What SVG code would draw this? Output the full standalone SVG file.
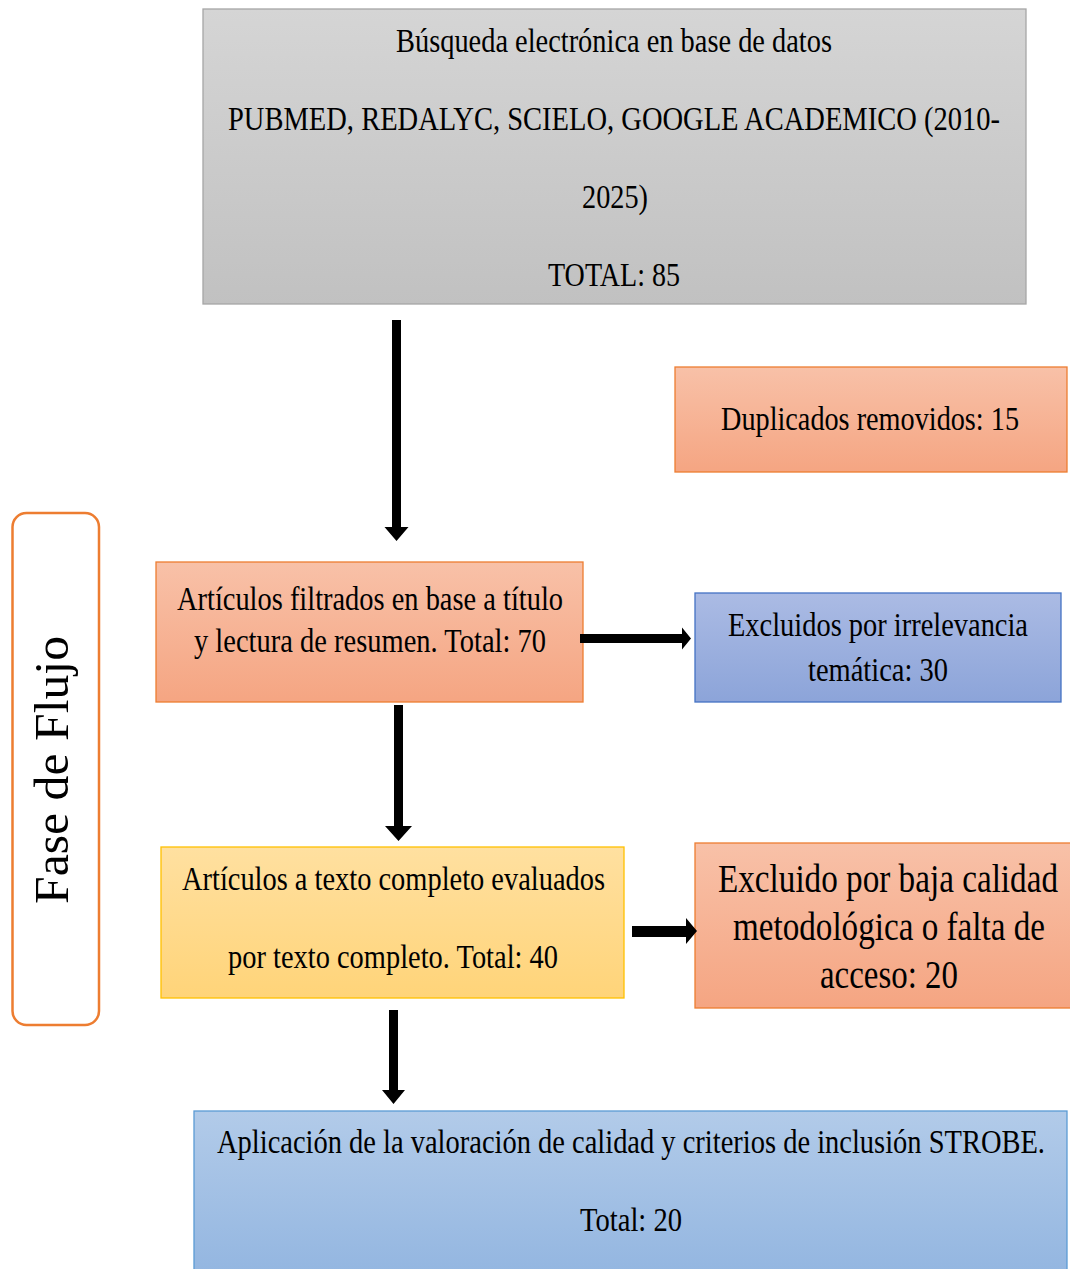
<svg xmlns="http://www.w3.org/2000/svg" width="1070" height="1269" viewBox="0 0 1070 1269">
<style>
text{font-family:"Liberation Serif","Times New Roman",serif;fill:#000;text-anchor:middle}
.t{font-size:34px}
.b{font-size:39px}
.box{stroke-width:1.3}
</style>
<defs>
<linearGradient id="gGray" x1="0" y1="0" x2="0" y2="1"><stop offset="0" stop-color="#d5d5d5"/><stop offset="1" stop-color="#c1c1c1"/></linearGradient>
<linearGradient id="gOrange" x1="0" y1="0" x2="0" y2="1"><stop offset="0" stop-color="#f8c1a8"/><stop offset="1" stop-color="#f5a582"/></linearGradient>
<linearGradient id="gPurple" x1="0" y1="0" x2="0" y2="1"><stop offset="0" stop-color="#abbbe4"/><stop offset="1" stop-color="#8ca4d9"/></linearGradient>
<linearGradient id="gYellow" x1="0" y1="0" x2="0" y2="1"><stop offset="0" stop-color="#ffe0a0"/><stop offset="1" stop-color="#ffd479"/></linearGradient>
<linearGradient id="gBlue" x1="0" y1="0" x2="0" y2="1"><stop offset="0" stop-color="#b2cbe9"/><stop offset="1" stop-color="#92b5e0"/></linearGradient>
</defs>

<g id="search">
<rect class="box" x="203" y="9" width="823" height="295" fill="url(#gGray)" stroke="#a6a6a6"/>
<text class="t" x="614" y="52" textLength="436" lengthAdjust="spacingAndGlyphs">Búsqueda electrónica en base de datos</text>
<text class="t" x="614" y="130" textLength="772" lengthAdjust="spacingAndGlyphs">PUBMED, REDALYC, SCIELO, GOOGLE ACADEMICO (2010-</text>
<text class="t" x="615" y="208" textLength="66" lengthAdjust="spacingAndGlyphs">2025)</text>
<text class="t" x="614" y="286" textLength="132" lengthAdjust="spacingAndGlyphs">TOTAL: 85</text>
</g>

<g id="duplicates">
<rect class="box" x="675" y="367" width="392" height="105" fill="url(#gOrange)" stroke="#ed7d31"/>
<text class="t" x="870" y="430" textLength="298" lengthAdjust="spacingAndGlyphs">Duplicados removidos: 15</text>
</g>

<g id="phase">
<rect x="12.5" y="513" width="86.5" height="512" rx="14" ry="14" fill="#fff" stroke="#ed7d31" stroke-width="2.5"/>
<text x="0" y="0" font-size="49" transform="translate(68,770) rotate(-90)" textLength="268" lengthAdjust="spacingAndGlyphs">Fase de Flujo</text>
</g>

<g id="screened">
<rect class="box" x="156" y="562" width="427" height="140" fill="url(#gOrange)" stroke="#ed7d31"/>
<text class="t" x="370" y="610" textLength="386" lengthAdjust="spacingAndGlyphs">Artículos filtrados en base a título</text>
<text class="t" x="370" y="652" textLength="352" lengthAdjust="spacingAndGlyphs">y lectura de resumen. Total: 70</text>
</g>

<g id="excluded-irrelevance">
<rect class="box" x="695" y="593" width="366" height="109" fill="url(#gPurple)" stroke="#4472c4"/>
<text class="t" x="878" y="636" textLength="300" lengthAdjust="spacingAndGlyphs">Excluidos por irrelevancia</text>
<text class="t" x="878" y="681" textLength="140" lengthAdjust="spacingAndGlyphs">temática: 30</text>
</g>

<g id="fulltext">
<rect class="box" x="161" y="847" width="463" height="151" fill="url(#gYellow)" stroke="#ffc000"/>
<text class="t" x="393.5" y="890" textLength="423" lengthAdjust="spacingAndGlyphs">Artículos a texto completo evaluados</text>
<text class="t" x="393" y="968" textLength="330" lengthAdjust="spacingAndGlyphs">por texto completo. Total: 40</text>
</g>

<g id="excluded-quality">
<rect class="box" x="695" y="843" width="387" height="165" fill="url(#gOrange)" stroke="#ed7d31"/>
<text class="b" x="888" y="892" textLength="340" lengthAdjust="spacingAndGlyphs">Excluido por baja calidad</text>
<text class="b" x="889" y="940" textLength="312" lengthAdjust="spacingAndGlyphs">metodológica o falta de</text>
<text class="b" x="889" y="988" textLength="138" lengthAdjust="spacingAndGlyphs">acceso: 20</text>
</g>

<g id="included">
<rect class="box" x="194" y="1111" width="873" height="170" fill="url(#gBlue)" stroke="#5b9bd5"/>
<text class="t" x="631" y="1153" textLength="828" lengthAdjust="spacingAndGlyphs">Aplicación de la valoración de calidad y criterios de inclusión STROBE.</text>
<text class="t" x="631" y="1231" textLength="102" lengthAdjust="spacingAndGlyphs">Total: 20</text>
</g>

<g id="connectors" fill="#000">
<polygon points="392,320 401,320 401,527 408.5,527 396.5,541 384.5,527 392,527"/>
<polygon points="580,634 682,634 682,627.5 691,638.5 682,649.5 682,643 580,643"/>
<polygon points="394,705 403,705 403,826 412,826 398.5,841 385,826 394,826"/>
<polygon points="632,926 686,926 686,918 697,931 686,944 686,937 632,937"/>
<polygon points="389,1010 398,1010 398,1090 405,1090 393.5,1104 382,1090 389,1090"/>
</g>
</svg>
